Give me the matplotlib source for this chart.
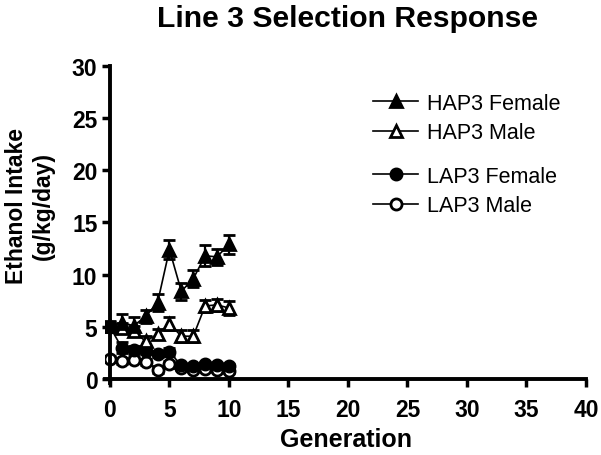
import matplotlib
matplotlib.use("Agg")
import matplotlib.pyplot as plt
from matplotlib.lines import Line2D

plt.rcParams["font.family"] = ["Liberation Sans", "DejaVu Sans"]

# data
generation = [0, 1, 2, 3, 4, 5, 6, 7, 8, 9, 10]
hap_female = [5.1, 5.4, 5.1, 6.0, 7.3, 12.4, 8.4, 9.6, 11.8, 11.7, 12.9]
hap_female_err = [0.5, 0.8, 0.8, 0.6, 0.8, 0.9, 0.8, 0.8, 1.0, 0.8, 0.9]
hap_male = [5.1, 4.9, 4.6, 3.6, 4.3, 5.3, 4.1, 4.1, 7.0, 7.1, 6.8]
hap_male_err = [0.4, 0.5, 0.5, 0.5, 0.5, 0.6, 0.6, 0.6, 0.6, 0.6, 0.7]
lap_female = [5.0, 3.0, 2.8, 2.7, 2.4, 2.6, 1.3, 1.2, 1.4, 1.3, 1.2]
lap_female_err = [0.3, 0.5, 0.4, 0.3, 0.3, 0.4, 0.2, 0.2, 0.2, 0.2, 0.2]
lap_male = [1.9, 1.7, 1.8, 1.6, 0.9, 1.4, 1.1, 0.9, 1.0, 0.9, 0.8]
lap_male_err = [0.3, 0.3, 0.3, 0.3, 0.3, 0.3, 0.2, 0.2, 0.2, 0.2, 0.2]

x_ticks = [0, 5, 10, 15, 20, 25, 30, 35, 40]
y_ticks = [0, 5, 10, 15, 20, 25, 30]

fig = plt.figure(figsize=(6.01, 4.56), dpi=100)
ax = fig.add_axes([0.175, 0.1575, 0.80, 0.696])

style = dict(color="black", linewidth=1.2, capsize=4, elinewidth=1.6,
             capthick=2.2, markersize=8, markeredgewidth=2)
ax.errorbar(generation, lap_male, yerr=lap_male_err, marker="o",
            markerfacecolor="white", **style)
ax.errorbar(generation, lap_female, yerr=lap_female_err, marker="o",
            markerfacecolor="black", **style)
ax.errorbar(generation, hap_male, yerr=hap_male_err, marker="^",
            markerfacecolor="white", **style)
ax.errorbar(generation, hap_female, yerr=hap_female_err, marker="^",
            markerfacecolor="black", **style)

ax.set_xlim(-0.4, 40)
ax.set_ylim(-0.4, 30)
ax.set_xticks(x_ticks)
ax.set_yticks(y_ticks)
ax.spines["left"].set_position(("data", 0))
ax.spines["bottom"].set_position(("data", 0))
ax.spines["top"].set_visible(False)
ax.spines["right"].set_visible(False)
for s in ["left", "bottom"]:
    ax.spines[s].set_linewidth(2.8)
ax.tick_params(width=2.5, length=6, labelsize=16.5, pad=3)
ax.tick_params(axis="x", pad=8)
for lab in ax.get_xticklabels() + ax.get_yticklabels():
    lab.set_fontweight("bold")

ax.set_xlabel("Generation", fontsize=18, fontweight="bold", labelpad=4)
ax.set_ylabel("Ethanol Intake\n(g/kg/day)", fontsize=16.5, fontweight="bold",
              labelpad=12)
ax.yaxis.set_label_coords(-0.105, 0.56)
fig.text(0.578, 0.958, "Line 3 Selection Response", ha="center", va="center",
         fontsize=21.7, fontweight="bold")

def handle(marker, face):
    return Line2D([], [], color="black", linewidth=1.2, marker=marker,
                  markerfacecolor=face, markeredgecolor="black",
                  markersize=8, markeredgewidth=2)

leg_kw = dict(frameon=False, fontsize=15.5, handlelength=2.1, handletextpad=0.4,
              labelspacing=0.4, borderaxespad=0)
leg1 = ax.legend([handle("^", "black"), handle("^", "white")],
                 ["HAP3 Female", "HAP3 Male"], loc="upper left",
                 bbox_to_anchor=(0.539, 0.943), **leg_kw)
ax.add_artist(leg1)
ax.legend([handle("o", "black"), handle("o", "white")],
          ["LAP3 Female", "LAP3 Male"], loc="upper left",
          bbox_to_anchor=(0.539, 0.713), **leg_kw)

fig.savefig("out.png", dpi=100)
